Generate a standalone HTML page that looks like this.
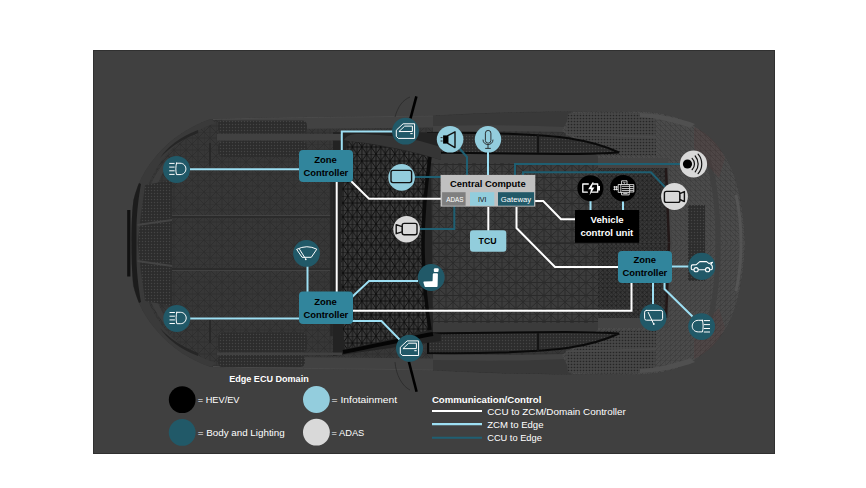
<!DOCTYPE html>
<html><head><meta charset="utf-8"><style>
html,body{margin:0;padding:0;background:#fff;width:866px;height:488px;overflow:hidden}
svg{display:block}
text{font-family:"Liberation Sans",sans-serif}
</style></head><body>
<svg width="866" height="488" viewBox="0 0 866 488">
<defs>
<pattern id="mW" width="9.4" height="14" patternUnits="userSpaceOnUse">
<rect width="9.4" height="14" fill="#3a3a3a"/>
<path d="M0 0L4.7 7L9.4 0M0 14L4.7 7L9.4 14M0 0H9.4M0 7H9.4M0 0V14M4.7 0V14M9.4 0V14" stroke="#0c0c0c" stroke-width="0.9" fill="none"/>
</pattern>
<pattern id="mR" width="14" height="13" patternUnits="userSpaceOnUse" x="5" y="2">
<rect width="14" height="13" fill="#3c3c3c"/>
<path d="M0 0L7 6.5L14 0M0 13L7 6.5L14 13M0 0H14M0 6.5H14M0 0V13M7 0V13M14 0V13" stroke="#2a2a2a" stroke-width="1" fill="none"/>
</pattern>
<pattern id="mB" width="4.4" height="4.4" patternUnits="userSpaceOnUse">
<rect width="4.4" height="4.4" fill="#3a3a3a"/>
<path d="M0 0L4.4 4.4M4.4 0L0 4.4M0 0H4.4M0 0V4.4" stroke="#1a1a1a" stroke-width="0.6" fill="none"/>
</pattern>
<pattern id="mH" width="12" height="12" patternUnits="userSpaceOnUse">
<rect width="12" height="12" fill="#373737"/>
<path d="M0 0L6 6L12 0M0 12L6 6L12 12M0 0H12M0 6H12M0 0V12M6 0V12" stroke="#2d2d2d" stroke-width="0.8" fill="none"/>
</pattern>
<pattern id="mV" width="3" height="3" patternUnits="userSpaceOnUse">
<rect width="3" height="3" fill="#2c2c2c"/>
<circle cx="1.5" cy="1.5" r="0.7" fill="#444"/>
</pattern>
<pattern id="mL" width="5" height="5" patternUnits="userSpaceOnUse">
<rect width="5" height="5" fill="#4b4b4b"/>
<path d="M0 0L5 5M0 0H5M0 0V5" stroke="#3a3a3a" stroke-width="0.7" fill="none"/>
</pattern>
<pattern id="mQ" width="3" height="3" patternUnits="userSpaceOnUse">
<rect width="3" height="3" fill="#474747"/>
<circle cx="1.5" cy="1.5" r="0.85" fill="#262626"/>
</pattern>
</defs>
<rect x="93" y="50" width="682" height="404" fill="#404040"/>
<rect x="93.5" y="50.5" width="681" height="403" fill="none" stroke="#303030" stroke-width="1"/>

<!-- CAR -->
<g id="car">
<path id="outl" d="M131.5 243C131.5 225 132 212 133.5 200C137 185 145 168 158 154C172 138 190 126 211 119C260 117 320 117 340 116.8L433 115.5C480 113 530 111.5 556 111.5L638 111.5C655 112 665 114 675 117C700 125 720 145 730 165C740 188 744 215 745 243C744 271 740 298 730 321C720 341 700 361 675 369C665 372 655 374 638 374.5L556 374.5C530 374.5 480 373 433 370.5L340 369.2C320 369 260 369 211 367C190 360 172 348 158 332C145 318 137 301 133 286C132 274 131.5 261 131.5 243Z" fill="url(#mH)"/>
<g id="ct">
<!-- front outer band -->
<path d="M131.5 243C131.5 225 132 212 133.5 200C137 185 145 168 158 154C172 138 190 126 211 119L216 123C198 129 181 139 168 153C155 168 147 185 143 201C140 215 139 230 139 243Z" fill="#3a3a3a"/>
<path d="M131.5 243C131.5 225 132 212 133.5 200C135 194 137 188 139 183L141 184C139 195 137 210 136.5 225L136.5 243Z" fill="#1c1c1c"/>
<path d="M198 133C182 139 169 148 160 158C167 147 180 137 198 130Z" fill="#262626"/>
<path d="M141 243C141 228 142 214 145 202C149 186 156 172 166 160L170 162C161 174 155 188 152 203C149 216 148 229 148 243Z" fill="#3e3e3e"/>
<path d="M210 143V166" stroke="#262626" stroke-width="1.5"/>
<!-- grille -->
<path d="M145 185L172 180V243.2H137.5Z" fill="url(#mV)"/>
<path d="M137.5 225L172 220" stroke="#444" stroke-width="1.8"/>
<path d="M222 119.2C260 117.8 320 117.5 340 117.2L433 116L433 127.5L340 128.5L222 129.5Z" fill="#424242"/>
<path d="M213 119.5C260 117.8 320 117.5 340 117.2L433 116" stroke="#4a4a4a" stroke-width="1" fill="none"/>
<!-- hood crease -->
<path d="M172 215.5H340" stroke="#424242" stroke-width="1"/>
<path d="M172 217H340" stroke="#2a2a2a" stroke-width="1.3"/>
<!-- roof rail / above side window -->
<path d="M433 116C480 113.5 530 112 556 112L600 112L600 131C560 130 500 131 433 132Z" fill="#393939"/>
<path d="M433 126C480 125 530 125 565 127L565 132C520 131 480 131 433 132Z" fill="#424242"/>
<!-- roof -->
<path d="M420 154H598V243.2H420Z" fill="url(#mR)"/>
<path d="M431 154H598V163H431Z" fill="#3b3b3b"/>
<path d="M331.5 150V243.2" stroke="#262626" stroke-width="2.5"/>
<!-- rear body -->
<path d="M572 111.7L638 111.5C655 112 665 114 675 117C700 125 720 145 730 165C740 188 744 215 745 243.2H598V156L562 131Z" fill="url(#mL)"/>
<path d="M568 113.5C600 112 630 112 655 114L656 155H605C595 148 585 140 566 133Z" fill="url(#mQ)"/>
<path d="M566 134.5C600 135 630 136 656 137" stroke="#4a4a4a" stroke-width="2" fill="none"/>
<path d="M640 113C660 114 680 118 695 124L690 128C675 122 655 118 640 117Z" fill="#505050"/>
<!-- side window -->
<path d="M428 133C460 132.5 485 133 500 133.5C530 134.5 555 136 570 138.5C590 141.5 605 146 619 152.5C600 153.5 580 154 565 154C530 154 480 153.5 428 152.5Z" fill="url(#mV)" stroke="#0a0a0a" stroke-width="2"/>
<path d="M538 135V153" stroke="#151515" stroke-width="2"/>
<!-- rear window -->
<path d="M598 158H668L672 243.2H598Z" fill="#444"/>
<path d="M598 168H666L669 243.2H598Z" fill="url(#mB)"/>
<path d="M666 168L669 243.2" stroke="#221818" stroke-width="2.5"/>
<rect x="688" y="205" width="17" height="38.2" fill="url(#mV)"/>
<path d="M708 160C716 185 718 215 718 243.2" stroke="#404040" stroke-width="5" fill="none"/>
<path d="M736 195C740 212 741 228 741 243.2" stroke="#545454" stroke-width="3" fill="none"/>
<path d="M694 127C707 133 718 143 725 158L719 178C710 168 701 158 694 148Z" fill="#6a2a2a" fill-opacity="0.12"/>
</g>
<use href="#ct" transform="matrix(1 0 0 -1 0 486)"/>
<!-- windshield full -->
<path d="M333 132L441 132.5L441 160L431 157L433 333L441 334V341L333 356Z" fill="#232323"/>
<path d="M344 140C346 136 350 134.5 356 134C375 134 400 136 420 141L441 147L441 160L431 157C400 148 370 143 348 141Z" fill="#353535"/>
<path d="M348 141C365 143 396 148 430 157C426 185 423 215 423 243C423 275 426 305 430 330C400 337 370 344 345 349C342 330 341 290 341 243C341 200 343 165 348 141Z" fill="url(#mW)"/>
<path d="M430 157C426 185 423 215 423 243C423 275 426 305 430 330" stroke="#0a0a0a" stroke-width="3.5" fill="none"/>
<path d="M343 352C370 347 400 340 433 334" stroke="#050505" stroke-width="4" fill="none"/>
<!-- vents top -->
<path d="M222 120.5H302Q307 120.5 307 126V128Q307 133.5 302 133.5H222Q218 133.5 218 128V126Q218 120.5 222 120.5Z" fill="url(#mV)"/>
<rect x="217" y="134" width="125" height="6.5" fill="#414141"/>
<path d="M224 141H301Q307 141 307 147V151Q307 157 301 157H224Q218 157 218 151V147Q218 141 224 141Z" fill="url(#mV)"/>
<!-- vents bottom -->
<path d="M224 332.5H301Q307 332.5 307 338V347Q307 352.5 301 352.5H224Q218 352.5 218 347V338Q218 332.5 224 332.5Z" fill="url(#mV)"/>
<rect x="217" y="352.5" width="125" height="2.5" fill="#414141"/>
<path d="M222 355H300Q305 355 305 360V362Q305 367 300 367H222Q218 367 218 362V360Q218 355 222 355Z" fill="url(#mV)"/>
<!-- mirrors -->
<path d="M416.4 96.3L410.5 118.4" stroke="#000" stroke-width="2.6"/><path d="M395 117C398 106 403 100 410 97" stroke="#2a2a2a" stroke-width="0.8" fill="none"/>
<path d="M408.9 361.7L416.6 391.7" stroke="#000" stroke-width="2.6"/><path d="M395 362C396 375 402 386 410 390" stroke="#2a2a2a" stroke-width="0.8" fill="none"/>
<!-- front plate -->
<rect x="127.2" y="210" width="3.2" height="66.5" fill="#111"/>
</g>

<!-- LINES: light blue ZCM to edge -->
<g stroke="#9ddff3" stroke-width="2" fill="none">
<path d="M190 169.3 H299"/>
<path d="M341.8 150 V131.5 H393"/>
<path d="M488 152 V175"/>
<path d="M190 318.6 H299"/>
<path d="M307.5 266 V292"/>
<path d="M352 297 L369 281 H418"/>
<path d="M352 321 H381.5 L400 340"/>
<path d="M590.5 201 V210"/>
<path d="M623 201 V210"/>
<path d="M672 266.5 H689"/>
<path d="M653 283 V304"/>
<path d="M664.5 283 V289 L692.5 316.5"/>
</g>
<!-- dark teal CCU to edge -->
<g stroke="#1f5f72" stroke-width="2" fill="none">
<path d="M414 177 H441"/>
<path d="M459 148 L467 157 V175"/>
<path d="M420 229 H454.3 V206"/>
<path d="M515 175 V164 H680"/>
<path d="M523 175 V172.3 H651 L665 187"/>
</g>
<!-- white CCU to ZCM -->
<g stroke="#fff" stroke-width="2" fill="none">
<path d="M351 181 L369 198.8 H441"/>
<path d="M336.7 182 V292"/>
<path d="M488.3 207 V231"/>
<path d="M535 201 H543.2 L561 219.3 H575"/>
<path d="M516.5 207 V228 L555 267 H618"/>
<path d="M352 310.7 H631.5 V283"/>
</g>

<!-- BOXES -->
<rect x="299" y="150" width="54" height="32" rx="4" fill="#31859c"/>
<text x="314.3" y="162.8" font-size="9" font-weight="bold" fill="#000" textLength="22.5" lengthAdjust="spacingAndGlyphs">Zone</text>
<text x="303.4" y="175.5" font-size="9" font-weight="bold" fill="#000" textLength="44.9" lengthAdjust="spacingAndGlyphs">Controller</text>
<rect x="299" y="291.5" width="54" height="32.5" rx="4" fill="#31859c"/>
<text x="314.3" y="304.8" font-size="9" font-weight="bold" fill="#000" textLength="22.5" lengthAdjust="spacingAndGlyphs">Zone</text>
<text x="303.4" y="317.5" font-size="9" font-weight="bold" fill="#000" textLength="44.9" lengthAdjust="spacingAndGlyphs">Controller</text>
<rect x="618" y="251" width="54" height="32" rx="4" fill="#31859c"/>
<text x="633.6" y="263" font-size="9" font-weight="bold" fill="#000" textLength="22.5" lengthAdjust="spacingAndGlyphs">Zone</text>
<text x="622.4" y="276.2" font-size="9" font-weight="bold" fill="#000" textLength="44.9" lengthAdjust="spacingAndGlyphs">Controller</text>
<rect x="440.6" y="174.9" width="94.7" height="31.7" fill="#c0c0c0"/>
<text x="450.0" y="187" font-size="9" font-weight="bold" fill="#000" textLength="75.7" lengthAdjust="spacingAndGlyphs">Central Compute</text>
<rect x="442.1" y="192.2" width="23.5" height="13.5" fill="#7f7f7f"/>
<text x="446.3" y="202" font-size="7" fill="#fff" textLength="17.3" lengthAdjust="spacingAndGlyphs">ADAS</text>
<rect x="470" y="192.2" width="24.3" height="13.5" fill="#92cddc"/>
<text x="477.9" y="202" font-size="7" fill="#111" textLength="8.7" lengthAdjust="spacingAndGlyphs">IVI</text>
<rect x="498" y="192.2" width="36.1" height="13.5" fill="#215968"/>
<text x="500.8" y="202" font-size="7" fill="#fff" textLength="30.3" lengthAdjust="spacingAndGlyphs">Gateway</text>
<rect x="470" y="230.3" width="36.3" height="21.5" rx="3" fill="#92cddc"/>
<text x="478.6" y="244.4" font-size="9" font-weight="bold" fill="#000" textLength="18.0" lengthAdjust="spacingAndGlyphs">TCU</text>
<rect x="575" y="210" width="64.2" height="32.8" fill="#000"/>
<text x="590.6" y="223.1" font-size="9" font-weight="bold" fill="#fff" textLength="33.1" lengthAdjust="spacingAndGlyphs">Vehicle</text>
<text x="580.4" y="235.9" font-size="9" font-weight="bold" fill="#fff" textLength="52.9" lengthAdjust="spacingAndGlyphs">control unit</text>

<!-- CIRCLES -->
<g fill="#215968">
<circle cx="176.5" cy="169.4" r="13.5"/>
<circle cx="176.8" cy="318.5" r="13.5"/>
<circle cx="405.5" cy="131.2" r="13.4"/>
<circle cx="409.5" cy="348.3" r="13.5"/>
<circle cx="306.5" cy="253.4" r="13.4"/>
<circle cx="431.2" cy="277.5" r="13.4"/>
<circle cx="701.8" cy="266.4" r="13.6"/>
<circle cx="653.1" cy="317.5" r="13.4"/>
<circle cx="701.6" cy="326.6" r="13.4"/>
</g>
<g fill="#93cddd">
<circle cx="450.1" cy="139.3" r="13.3"/>
<circle cx="488" cy="139.3" r="13.2"/>
<circle cx="401.6" cy="177.4" r="13.3"/>
</g>
<g fill="#d9d9d9">
<circle cx="406.6" cy="229.2" r="13.3"/>
<circle cx="693.5" cy="164" r="13.6"/>
<circle cx="674.5" cy="196.5" r="13.4"/>
</g>
<g fill="#000">
<circle cx="590.4" cy="188.2" r="13"/>
<circle cx="623.2" cy="188.2" r="13.2"/>
</g>


<!-- ICONS -->
<g fill="none" stroke="#fff" stroke-width="1" stroke-linecap="round" stroke-linejoin="round">
<g transform="translate(176.5 169.4)"><path d="M-6.9 -6H-2.3M-6.9 -2.3H-2.3M-6.9 1.4H-2.3M-6.9 5H-2.3"/><path d="M0 -6.2H3.5C7.5 -6.2 9.4 -3 9.4 -0.5C9.4 2.2 7.5 5.2 3.5 5.2H0C-0.9 2 -0.9 -3 0 -6.2Z"/></g>
<g transform="translate(176.8 318.5)"><path d="M-6.9 -6H-2.3M-6.9 -2.3H-2.3M-6.9 1.4H-2.3M-6.9 5H-2.3"/><path d="M0 -6.2H3.5C7.5 -6.2 9.4 -3 9.4 -0.5C9.4 2.2 7.5 5.2 3.5 5.2H0C-0.9 2 -0.9 -3 0 -6.2Z"/></g>
<g transform="translate(405.5 131.2)"><path d="M-2 -7.4H9.1V7.2H-7.2L-9.2 5.1V-0.6Z"/><path d="M-6.3 0.1L-0.8 -5.1H6.9V-0.1Z"/><path d="M5.2 2.4H6.8"/></g>
<g transform="translate(409.5 348.3)"><path d="M-2 -7.4H9.1V7.2H-7.2L-9.2 5.1V-0.6Z"/><path d="M-6.3 0.1L-0.8 -5.1H6.9V-0.1Z"/><path d="M5.2 2.4H6.8"/></g>
<path d="M297 249.2Q307 244.2 316.8 249.2L311.3 257.3H302.5Z"/><path d="M299.6 249.4L305.3 258.4"/>
<path d="M693.8 269.7H692.2Q691.3 269.7 691.3 268.8V266.3Q691.3 265 692.6 264.9L696.3 264.6L699.8 261.6H706.6L709.1 263.6L712.5 262.3L710.8 264.5Q712.3 265.2 712.3 266.5V268.6Q712.3 269.7 711.2 269.7H709.9M705.4 269.7H698.4" stroke-width="1.1"/>
<rect x="644.6" y="310.4" width="18" height="9.8" rx="1.8"/><path d="M648.2 312.4L653.4 323.5"/>
<g transform="translate(701.6 326.6)"><path d="M0.8 -6.3H-3.2C-7 -6.3 -9.4 -3.6 -9.4 -0.5C-9.4 2.7 -7 5.3 -3.2 5.3H0.8C1.8 2 1.8 -3 0.8 -6.3Z"/><path d="M2.6 -6H8M2.6 -2H8M2.6 1.9H8M2.6 5.4H8"/></g>
<path d="M582.8 184H588.3M592.8 184H597.7V192.2H591.7M587.3 192.2H582.8V184" stroke-width="1.3"/>
<g stroke-width="0.8" stroke-linecap="butt"><path d="M621.6 184.3V180.8H627V184.3"/><path d="M623.5 181.8L624.4 183.4L625.2 182.2"/><path d="M618.2 184.5H629.6V192.4H618.2Z"/><path d="M620.8 184.8V192.2"/><path d="M621.8 186.3H629.2M621.8 188.6H629.2M621.8 190.6H629.2"/><path d="M629.6 184.6H633.8V192H629.6M629.8 186.6H633.6M629.8 188.6H633.6M629.8 190.4H633.6"/><path d="M621.6 192.4V194.9H629.2V192.4M623.2 193.6H627.6"/><path d="M613.4 187H618M613.4 189.4H618M614.6 186V190.4M616.4 186V190.4"/></g>
</g>
<g fill="#fff">
<circle cx="696.1" cy="269.7" r="2.1" stroke="#fff" stroke-width="1.1" fill="#215968"/>
<circle cx="707.6" cy="269.7" r="2.1" stroke="#fff" stroke-width="1.1" fill="#215968"/>
<circle cx="653.8" cy="324" r="0.9"/>
<circle cx="305.8" cy="259.3" r="0.9"/>
<rect x="598" y="186" width="2" height="4.5"/>
<path d="M592.6 182.3L588.2 189.2H591L589.6 195.3L594.4 187.4H591.6L593.6 182.3Z"/>
<path d="M433.8 269.6Q433.8 268.2 435.2 268.2H437.4Q438.8 268.2 438.7 269.6L438.5 271.2Q438.4 272 437.6 272H434.6Q433.8 272 433.8 271.2Z"/>
<path d="M423.4 282.5Q423.2 281.6 424.2 281.5L431.6 281.3Q432.5 281.3 432.6 280.4L432.8 274.2Q432.9 273.2 433.9 273.2H436.9Q437.9 273.2 437.9 274.2L437.6 286Q437.6 286.9 436.7 286.9H425.5Q424.6 286.9 424.5 286Z"/>
</g>
<g fill="none" stroke="#111" stroke-width="1.4" stroke-linejoin="round">
<rect x="391" y="170.4" width="20.6" height="12.2" rx="2" fill="#93cddd"/>
<rect x="402.2" y="223.4" width="14.8" height="11.4" rx="2" fill="#d9d9d9"/>
<path d="M396.2 224.6L402.1 226.6V231.8L396.2 233.7Z" fill="#d9d9d9"/>
<rect x="664.4" y="191.4" width="15.5" height="11" rx="2" fill="#d9d9d9"/>
<path d="M679.9 193.6L684.4 191.6V201.6L679.9 199.5Z" fill="#d9d9d9"/>
<path d="M447.8 135.6L455 131.8V147.6L447.8 143.4Z" fill="#93cddd"/>
<path d="M692.1 158.4A7.9 7.9 0 0 1 692.1 169.7M695.2 156A12.2 12.2 0 0 1 695.2 171.9M698.1 154.2A14.7 14.7 0 0 1 698.1 173.6" stroke-width="1.2" stroke-linecap="round"/>
</g>
<rect x="443.1" y="135.4" width="4.8" height="8.2" fill="#000"/>
<path d="M440.6 137.6H442.6M440.6 141H442.6" stroke="#333" stroke-width="1"/>
<circle cx="687.5" cy="164" r="4.6" fill="#000"/>
<g fill="none" stroke="#222" stroke-width="0.9">
<rect x="485.4" y="130.4" width="5.5" height="12.8" rx="2.75"/>
<path d="M483 139.6C483 146.2 493 146.2 493 139.6M488 145V148.2M485.2 148.4H490.8"/>
</g>

<!-- LEGEND -->
<text x="229.2" y="381.5" font-size="9" font-weight="bold" fill="#fff" textLength="79.5" lengthAdjust="spacingAndGlyphs">Edge ECU Domain</text>
<circle cx="182.2" cy="399.7" r="13.4" fill="#000"/>
<circle cx="182.2" cy="432.4" r="13.4" fill="#215968"/>
<circle cx="316.4" cy="399.5" r="13.4" fill="#93cddd"/>
<circle cx="316.4" cy="432.2" r="13.4" fill="#d9d9d9"/>
<text x="197.8" y="403.2" font-size="9" fill="#fff" textLength="41.7" lengthAdjust="spacingAndGlyphs">= HEV/EV</text>
<text x="197.8" y="435.8" font-size="9" fill="#fff" textLength="86.9" lengthAdjust="spacingAndGlyphs">= Body and Lighting</text>
<text x="331.6" y="402.7" font-size="9" fill="#fff" textLength="65.6" lengthAdjust="spacingAndGlyphs">= Infotainment</text>
<text x="331.6" y="435.6" font-size="9" fill="#fff" textLength="32.7" lengthAdjust="spacingAndGlyphs">= ADAS</text>
<text x="431.9" y="403" font-size="9" font-weight="bold" fill="#fff" textLength="109.5" lengthAdjust="spacingAndGlyphs">Communication/Control</text>
<path d="M432 411 H482" stroke="#fff" stroke-width="2"/>
<path d="M432 424.1 H482" stroke="#9ddff3" stroke-width="2.1"/>
<path d="M432 437.7 H482" stroke="#1f5f72" stroke-width="2"/>
<text x="487.2" y="415.2" font-size="9" fill="#fff" textLength="138.6" lengthAdjust="spacingAndGlyphs">CCU to ZCM/Domain Controller</text>
<text x="487.2" y="427.8" font-size="9" fill="#fff" textLength="56.3" lengthAdjust="spacingAndGlyphs">ZCM to Edge</text>
<text x="487.2" y="440.6" font-size="9" fill="#fff" textLength="54.6" lengthAdjust="spacingAndGlyphs">CCU to Edge</text>
</svg>
</body></html>
